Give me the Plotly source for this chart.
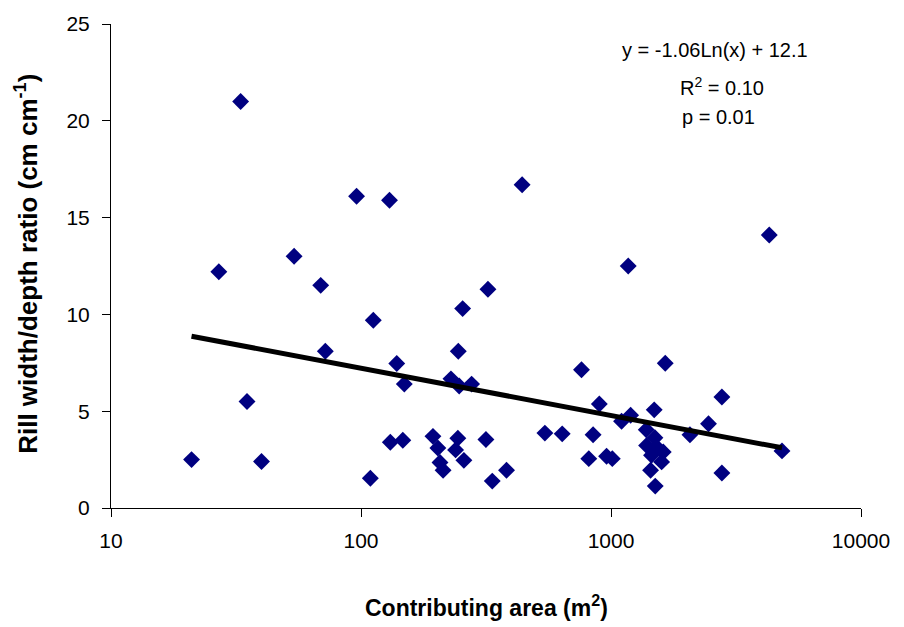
import numpy as np
import plotly.graph_objects as go

# Contributing area (m2) and rill width/depth ratio (cm cm-1)
area = [21, 27, 33, 35, 40, 54, 69, 72, 96, 109, 112, 130, 131, 139, 147, 149,
        194, 203, 207, 213, 229, 239, 244, 245, 247, 255, 258, 277, 316, 322,
        335, 382, 441, 544, 638, 762, 815, 848, 898, 960, 1012, 1102, 1172,
        1198, 1384, 1388, 1440, 1452, 1489, 1499, 1503, 1522, 1594, 1618,
        1648, 2069, 2455, 2777, 2777, 4296, 4830]
ratio = [2.50, 12.2, 21.0, 5.5, 2.4, 13.0, 11.5, 8.1, 16.1, 1.54, 9.7, 15.9,
         3.4, 7.46, 3.5, 6.4, 3.7, 3.1, 2.35, 1.95, 6.67, 3.0, 3.6, 8.1, 6.3,
         10.3, 2.46, 6.4, 3.54, 11.3, 1.39, 1.95, 16.7, 3.87, 3.83, 7.14,
         2.55, 3.78, 5.37, 2.67, 2.55, 4.48, 12.5, 4.79, 4.04, 3.23, 1.95,
         2.72, 5.07, 3.63, 1.13, 3.15, 2.38, 2.89, 7.48, 3.78, 4.35, 5.73,
         1.81, 14.1, 2.95]

# Logarithmic trendline: y = a ln(x) + b
fit_a, fit_b = -1.06, 12.1
x_ticks = [10, 100, 1000, 10000]
y_ticks = [0, 5, 10, 15, 20, 25]
stats_lines = ["y = -1.06Ln(x) + 12.1", "R<sup>2</sup> = 0.10", "p = 0.01"]

fit_x = np.geomspace(min(area), max(area), 50)
fit_y = fit_a * np.log(fit_x) + fit_b

FONT = "Liberation Sans, Arial, sans-serif"

fig = go.Figure()
fig.add_trace(go.Scatter(
    x=area, y=ratio, mode="markers",
    marker=dict(symbol="diamond", size=13, color="#000080",
                line=dict(width=0)),
    showlegend=False,
))
fig.add_trace(go.Scatter(
    x=fit_x, y=fit_y, mode="lines",
    line=dict(color="black", width=5),
    showlegend=False,
))

# Trendline statistics, one annotation per line
ann_pos = [(0.805, 0.947), (0.814, 0.871), (0.810, 0.807)]
for txt, (xx, yy) in zip(stats_lines, ann_pos):
    fig.add_annotation(
        x=xx, y=yy, xref="paper", yref="paper", text=txt,
        showarrow=False, xanchor="center", yanchor="middle",
        font=dict(family=FONT, size=20, color="black"),
    )

# Axis titles
fig.add_annotation(
    x=0.5, y=-0.203, xref="paper", yref="paper",
    text="<b>Contributing area (m<sup>2</sup>)</b>",
    showarrow=False, xanchor="center", yanchor="middle",
    font=dict(family=FONT, size=23, color="black"),
)
fig.add_annotation(
    x=-0.113, y=0.505, xref="paper", yref="paper", textangle=-90,
    text="<b>Rill width/depth ratio (cm cm<sup>-1</sup>)</b>",
    showarrow=False, xanchor="center", yanchor="middle",
    font=dict(family=FONT, size=26, color="black"),
)

fig.update_layout(
    width=904, height=627,
    margin=dict(l=111, r=43, t=21, b=119),
    paper_bgcolor="white", plot_bgcolor="white",
    font=dict(family=FONT, color="black"),
)
fig.update_xaxes(
    type="log", range=[1, 4],
    tickvals=x_ticks, ticktext=[str(v) for v in x_ticks],
    ticks="outside", ticklen=8, tickwidth=1, tickcolor="black",
    showline=True, linecolor="black", linewidth=1,
    showgrid=False, zeroline=False,
    tickfont=dict(family=FONT, size=21),
    ticklabelstandoff=6,
)
fig.update_yaxes(
    range=[0, 25], tickvals=y_ticks,
    ticks="outside", ticklen=8, tickwidth=1, tickcolor="black",
    showline=True, linecolor="black", linewidth=1,
    showgrid=False, zeroline=False,
    tickfont=dict(family=FONT, size=21),
    ticklabelstandoff=8,
)

fig.write_html("out.html")
